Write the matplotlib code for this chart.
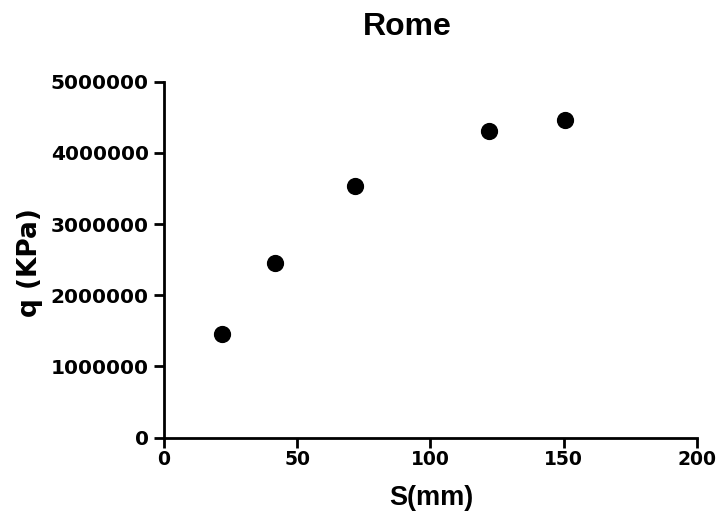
import matplotlib
matplotlib.use("Agg")
import matplotlib.pyplot as plt

S_mm = [21.6, 41.6, 71.6, 121.8, 150.6]
q_kpa = [1456000, 2458000, 3531000, 4308000, 4458000]
x_ticks = [0, 50, 100, 150, 200]
y_ticks = [0, 1000000, 2000000, 3000000, 4000000, 5000000]

plt.rcParams['font.family'] = ['Liberation Sans', 'DejaVu Sans']
plt.rcParams['font.weight'] = 'bold'

fig = plt.figure(figsize=(7.24, 5.25), dpi=100)
ax = fig.add_axes([0.2265, 0.1663, 0.7362, 0.6781])
ax.scatter(S_mm, q_kpa, s=130, color='black', zorder=3, clip_on=False)

ax.set_xlim(0, 200)
ax.set_ylim(0, 5000000)
ax.set_xticks(x_ticks)
ax.set_yticks(y_ticks)
ax.set_xticklabels([str(v) for v in x_ticks], family='DejaVu Sans', fontsize=13.5, fontweight='bold')
ax.set_yticklabels([str(v) for v in y_ticks], family='DejaVu Sans', fontsize=14.5, fontweight='bold')
for s in ['top', 'right']:
    ax.spines[s].set_visible(False)
for s in ['left', 'bottom']:
    ax.spines[s].set_linewidth(2)
ax.tick_params(width=2, length=7, direction='out', pad=2)
ax.tick_params(axis='y', pad=4)

fig.text(431 / 724, 1 - 505 / 525, 'S(mm)', ha='center', va='baseline',
         fontsize=19.5, fontweight='bold')
fig.text(30 / 724, 1 - 263 / 525, 'q (KPa)', ha='center', va='center', rotation=90,
         family='DejaVu Sans', fontsize=19, fontweight='bold')
fig.text(407 / 724, 1 - 27 / 525, 'Rome', ha='center', va='center', fontsize=23, fontweight='bold')

fig.savefig('out.png', dpi=100)
